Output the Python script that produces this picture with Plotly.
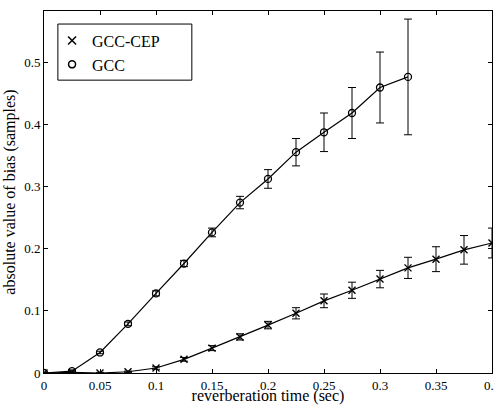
import plotly.graph_objects as go

t = [0, 0.025, 0.05, 0.075, 0.1, 0.125, 0.15, 0.175, 0.2, 0.225, 0.25, 0.275, 0.3, 0.325, 0.35, 0.375, 0.4]
gcc_t = t[:14]
gcc = [0.0, 0.003, 0.033, 0.079, 0.128, 0.176, 0.226, 0.274, 0.312, 0.355, 0.387, 0.418, 0.459, 0.476]
gcc_err = [0.001, 0.002, 0.002, 0.003, 0.004, 0.005, 0.007, 0.010, 0.015, 0.022, 0.031, 0.041, 0.057, 0.093]
cep = [0.0, 0.001, 0.0, 0.002, 0.008, 0.022, 0.040, 0.058, 0.077, 0.096, 0.116, 0.133, 0.151, 0.169, 0.183, 0.198, 0.209]
cep_err = [0.001, 0.001, 0.001, 0.001, 0.002, 0.003, 0.004, 0.005, 0.006, 0.009, 0.011, 0.013, 0.014, 0.017, 0.020, 0.023, 0.024]
xticks = [0, 0.05, 0.1, 0.15, 0.2, 0.25, 0.3, 0.35, 0.4]
xtick_text = ["0", "0.05", "0.1", "0.15", "0.2", "0.25", "0.3", "0.35", "0.4"]
yticks = [0, 0.1, 0.2, 0.3, 0.4, 0.5]
ytick_text = ["0", "0.1", "0.2", "0.3", "0.4", "0.5"]

FONT = "Liberation Serif"
fig = go.Figure()

fig.add_trace(go.Scatter(
    x=t, y=cep, mode="lines+markers", showlegend=False,
    line=dict(color="black", width=1.2),
    marker=dict(symbol="x-thin-open", size=7, color="black", line=dict(width=1.4, color="black")),
    error_y=dict(type="data", array=cep_err, visible=True, color="black", thickness=1, width=4),
))
fig.add_trace(go.Scatter(
    x=gcc_t, y=gcc, mode="lines+markers", showlegend=False,
    line=dict(color="black", width=1.2),
    marker=dict(symbol="circle-open", size=7, color="black", line=dict(width=1.3, color="black")),
    error_y=dict(type="data", array=gcc_err, visible=True, color="black", thickness=1, width=4),
))
# legend-only entries (markers only)
fig.add_trace(go.Scatter(
    x=[None], y=[None], mode="markers", name="GCC-CEP",
    marker=dict(symbol="x-thin-open", size=8, color="black", line=dict(width=1.5, color="black")),
))
fig.add_trace(go.Scatter(
    x=[None], y=[None], mode="markers", name="GCC",
    marker=dict(symbol="circle-open", size=7, color="black", line=dict(width=1.5, color="black")),
))

axis_common = dict(
    showgrid=False, zeroline=False, showline=True, linecolor="black", linewidth=1,
    mirror="ticks", ticks="inside", ticklen=4, tickcolor="black",
    tickfont=dict(family=FONT, size=13, color="black"),
    automargin=False, ticklabeloverflow="allow",
)
fig.update_xaxes(
    range=[0, 0.4], tickvals=xticks, ticktext=xtick_text,
    title=dict(text="reverberation time (sec)", font=dict(family=FONT, size=16, color="black"), standoff=8),
    **axis_common,
)
fig.update_yaxes(
    range=[0, 0.582], tickvals=yticks, ticktext=ytick_text,
    title=dict(text="absolute value of bias (samples)", font=dict(family=FONT, size=16, color="black"), standoff=4),
    **axis_common,
)
fig.update_layout(
    width=494, height=405,
    margin=dict(l=44, r=2, t=11, b=32),
    paper_bgcolor="white", plot_bgcolor="white",
    font=dict(family=FONT, color="black"),
    legend=dict(
        x=0.018, y=0.965, xanchor="left", yanchor="top",
        borderwidth=0, bgcolor="rgba(0,0,0,0)",
        font=dict(family=FONT, size=16, color="black"),
        itemwidth=30, tracegroupgap=0,
    ),
    shapes=[dict(type="rect", xref="paper", yref="paper",
                 x0=0.031, x1=0.330, y0=0.809, y1=0.964,
                 line=dict(color="black", width=1), fillcolor="white", layer="below")],
)
fig.write_html("out.html")
